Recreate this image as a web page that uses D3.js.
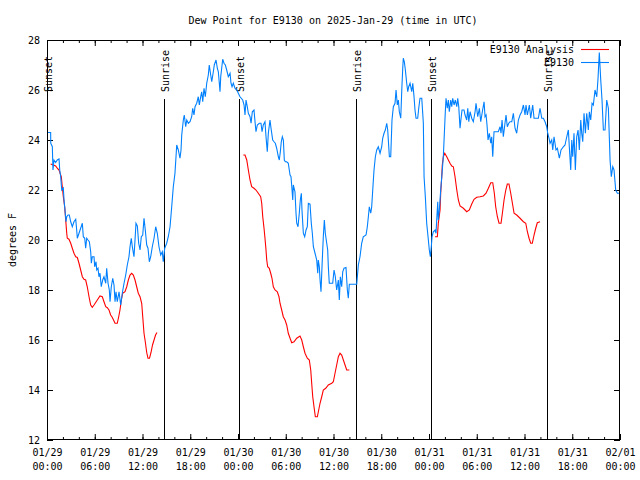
<!DOCTYPE html>
<html><head><meta charset="utf-8">
<script src="https://cdn.jsdelivr.net/npm/d3@7"></script>
<style>
body{margin:0;background:#fff;}
svg{display:block;font-family:"DejaVu Sans Mono","Liberation Mono",monospace;font-size:10px;}
</style></head><body>
<svg id="c" width="640" height="480"></svg>
<script>
// ---- data (hours after 2025-01-29 00:00 UTC, dew point °F) ----
const title = "Dew Point for E9130 on 2025-Jan-29 (time in UTC)";
const yLabel = "degrees F";
const seriesNames = ["E9130 Analysis", "E9130"];
const majorTickHours = [0,6,12,18,24,30,36,42,48,54,60,66,72];
const tickLabels = ["01/29 00:00","01/29 06:00","01/29 12:00","01/29 18:00","01/30 00:00","01/30 06:00","01/30 12:00","01/30 18:00","01/31 00:00","01/31 06:00","01/31 12:00","01/31 18:00","02/01 00:00"];
const minorTickHours = d3.range(0, 73, 2);
const yTicks = [12,14,16,18,20,22,24,26,28];
const sunTimes = [0.05, 14.75, 24.17, 38.79, 48.29, 62.87];
const sunLabels = ["Sunset","Sunrise","Sunset","Sunrise","Sunset","Sunrise"];

const obsHours = [0.13,0.46,0.47,0.67,0.75,0.88,1.09,1.29,1.51,1.60,1.72,1.85,2.05,2.14,2.26,2.39,2.48,2.64,2.80,2.98,3.18,3.39,3.61,3.73,3.81,4.02,4.23,4.44,4.56,4.74,4.86,4.99,5.15,5.32,5.49,5.57,5.69,5.91,5.99,6.16,6.25,6.41,6.53,6.66,6.82,7.00,7.16,7.38,7.50,7.67,7.83,7.92,8.08,8.26,8.42,8.55,8.67,8.83,9.05,9.26,9.46,9.68,9.89,10.09,10.30,10.43,10.59,10.72,10.93,11.06,11.18,11.35,11.52,11.69,11.85,12.03,12.19,12.35,12.53,12.69,12.86,13.03,13.23,13.45,13.66,13.86,14.07,14.29,14.49,14.61,14.79,15.04,15.24,15.46,15.67,15.87,16.08,16.21,16.30,16.50,16.71,16.84,16.93,17.13,17.25,17.43,17.56,17.76,17.97,18.18,18.31,18.47,18.60,18.81,19.01,19.14,19.31,19.44,19.57,19.73,19.89,20.07,20.27,20.39,20.57,20.70,20.90,21.02,21.24,21.40,21.53,21.74,21.83,21.95,22.08,22.24,22.41,22.58,22.78,23.00,23.12,23.25,23.41,23.62,23.84,24.04,24.25,24.59,24.76,24.88,25.01,25.17,25.30,25.51,25.64,25.80,26.01,26.14,26.26,26.43,26.68,26.89,27.02,27.18,27.39,27.52,27.68,27.81,28.02,28.15,28.36,28.53,28.69,28.86,29.07,29.19,29.32,29.44,29.57,29.70,29.82,29.95,30.12,30.32,30.54,30.66,30.79,30.88,30.95,31.16,31.29,31.38,31.54,31.70,31.83,31.96,32.04,32.21,32.38,32.55,32.71,32.84,33.05,33.21,33.34,33.47,33.68,33.89,34.02,34.09,34.22,34.31,34.43,34.59,34.72,34.85,34.97,35.15,35.27,35.35,35.47,35.69,35.90,36.07,36.23,36.40,36.61,36.73,36.86,37.03,37.16,37.32,37.57,37.74,37.86,37.99,38.29,38.70,38.92,39.12,39.33,39.54,39.74,40.09,40.25,40.38,40.50,40.68,40.80,40.93,41.09,41.26,41.43,41.63,41.85,42.06,42.18,42.35,42.51,42.69,42.81,43.02,43.19,43.35,43.52,43.73,43.86,44.02,44.15,44.27,44.45,44.58,44.70,44.77,44.90,45.03,45.20,45.33,45.45,45.62,45.83,45.96,46.12,46.24,46.37,46.58,46.71,46.87,47.09,47.29,47.38,47.54,47.71,47.88,48.04,48.17,48.29,48.38,48.54,48.76,48.88,48.97,49.10,49.17,49.30,49.47,49.64,49.80,49.93,50.05,50.14,50.30,50.43,50.55,50.73,50.86,50.98,51.15,51.31,51.49,51.61,51.74,51.90,52.03,52.15,52.40,52.53,52.74,52.87,53.00,53.16,53.37,53.57,53.79,53.91,54.12,54.33,54.50,54.70,54.92,55.04,55.17,55.29,55.42,55.58,55.76,55.88,56.01,56.17,56.34,56.71,56.93,57.05,57.18,57.34,57.52,57.68,57.84,58.02,58.18,58.40,58.60,58.81,59.02,59.23,59.44,59.65,59.86,60.07,60.19,60.36,60.61,60.78,61.03,61.20,61.54,61.74,61.95,62.17,62.37,62.58,62.79,62.92,63.08,63.21,63.42,63.55,63.71,63.96,64.13,64.38,64.59,64.88,65.09,65.31,65.51,65.63,65.81,65.94,66.06,66.22,66.39,66.56,66.73,66.89,67.07,67.19,67.32,67.48,67.65,67.82,68.02,68.15,68.32,68.49,68.65,68.86,69.08,69.24,69.40,69.58,69.74,69.91,70.12,70.33,70.54,70.75,70.91,71.09,71.25,71.46,71.67,71.92];
const obsValues = [24.3,24.3,23.87,23.73,22.8,23.2,23.1,23.2,23.24,22.8,22.53,22.0,22.08,21.6,21.2,20.73,20.93,21.0,21.0,20.73,20.53,20.73,20.83,20.4,20.07,20.27,20.47,20.67,20.13,20.07,19.67,20.07,20.0,19.93,19.53,19.07,19.33,19.33,18.93,19.13,18.8,18.87,18.53,18.67,18.13,18.4,18.53,18.27,18.87,18.27,18.0,17.53,18.13,18.47,18.2,17.53,17.93,17.53,17.93,17.4,17.87,18.27,18.6,19.0,19.33,19.73,20.07,19.73,19.33,20.0,20.67,20.56,19.87,19.6,20.13,20.2,20.87,20.4,19.8,19.67,19.13,19.33,19.73,20.07,20.53,20.27,19.73,19.4,19.53,19.13,19.67,19.87,20.13,20.53,21.33,22.13,22.67,23.33,23.8,23.6,23.27,23.6,24.2,24.8,25.0,24.53,24.8,24.67,24.73,24.93,25.27,25.0,25.33,25.47,25.73,25.4,25.73,25.93,25.53,26.07,25.73,26.27,26.6,27.0,26.6,26.33,26.73,27.0,27.2,26.87,26.73,25.93,26.53,26.87,27.23,27.07,27.0,26.8,26.53,26.67,26.27,26.13,26.27,26.07,26.0,25.87,25.73,25.6,25.4,25.0,25.6,25.33,25.07,24.93,24.67,25.13,25.2,24.73,24.33,24.6,24.67,24.67,24.33,24.6,24.73,24.13,23.53,24.27,24.8,24.47,24.0,23.93,23.87,23.67,23.33,23.2,23.53,23.93,24.13,24.0,23.2,23.13,23.13,23.07,22.6,22.53,22.0,21.6,22.2,21.93,21.07,20.67,20.53,21.07,21.6,21.87,21.2,20.27,20.13,20.4,20.53,21.47,21.44,20.67,20.27,19.73,19.47,19.2,18.67,19.2,18.93,18.4,17.93,19.2,20.13,20.8,20.27,19.87,19.6,18.93,18.27,18.27,18.27,18.8,18.53,18.0,18.4,17.6,18.53,18.13,18.73,18.87,18.9,18.0,17.67,18.23,18.23,18.23,18.23,19.0,19.33,19.87,20.13,20.2,20.53,20.93,21.33,21.07,21.33,22.0,22.8,23.33,23.6,23.73,23.47,23.73,24.07,24.27,24.4,24.67,24.4,23.33,23.33,24.8,25.33,25.47,26.0,25.4,25.6,25.13,24.87,26.0,26.87,27.27,27.13,26.8,26.27,25.93,26.13,26.27,25.93,26.27,25.73,25.2,24.87,24.87,25.27,25.67,25.67,24.67,22.53,21.73,20.67,20.13,19.6,19.33,19.73,20.13,20.33,20.4,20.27,20.8,21.53,20.8,21.2,22.0,22.67,23.33,24.27,25.13,25.67,25.27,25.6,25.13,25.6,25.33,25.67,25.4,25.6,25.33,25.67,25.33,24.47,24.87,25.2,25.2,25.0,24.8,25.27,24.73,25.13,24.87,24.73,25.13,25.47,24.93,25.27,24.73,25.13,25.53,24.93,25.0,24.6,24.0,24.27,23.87,24.13,23.33,24.33,24.33,24.33,24.53,24.27,24.8,24.13,24.6,25.0,24.53,24.67,24.73,24.73,25.07,24.47,24.27,24.8,25.0,25.13,25.4,25.0,25.4,25.0,25.4,24.87,25.4,24.87,24.87,24.87,25.27,24.87,24.87,24.73,24.53,24.27,24.07,23.87,24.0,23.6,24.13,23.6,23.67,23.27,23.6,23.73,23.8,24.13,24.4,23.73,22.8,24.0,23.33,24.27,22.8,24.13,24.4,23.6,24.8,24.27,23.93,25.07,24.27,25.07,24.4,25.13,24.8,25.47,25.4,26.0,25.73,26.47,27.5,26.4,25.6,24.4,24.4,25.6,25.27,23.2,22.53,22.93,22.8,22.0,21.87,21.87];

const anaHours = [
 [0.46,1.09,1.29,1.51,1.80,1.92,2.05,2.22,2.35,2.48,2.55,2.76,2.98,3.18,3.39,3.61,3.81,4.02,4.23,4.44,4.65,4.86,5.06,5.28,5.49,5.69,5.91,6.32,6.66,6.95,7.16,7.38,7.58,7.79,8.00,8.21,8.55,8.83,9.01,9.17,9.34,9.51,9.80,10.02,10.22,10.43,10.64,10.85,11.06,11.27,11.47,11.69,11.90,12.03,12.19,12.35,12.53,12.69,12.88,13.07,13.26,13.45,13.64,13.82],
 [24.67,24.88,25.10,25.30,25.51,25.72,26.01,26.26,26.55,26.85,26.98,27.11,27.27,27.39,27.52,27.61,27.73,27.93,28.11,28.27,28.44,28.65,28.94,29.15,29.28,29.49,29.69,29.91,30.12,30.32,30.54,30.75,31.04,31.38,31.79,32.01,32.21,32.42,32.71,32.96,33.14,33.26,33.39,33.55,33.72,33.97,34.14,34.31,34.52,34.72,35.02,35.35,35.78,35.98,36.19,36.40,36.61,36.82,37.03,37.24,37.45,37.66,37.99],
 [48.76,49.05,49.17,49.39,49.47,49.60,49.67,49.80,49.98,50.23,50.43,50.64,50.86,51.06,51.27,51.49,51.69,51.90,52.32,52.74,53.07,53.37,53.66,54.00,54.41,54.83,55.17,55.46,55.76,56.01,56.21,56.38,56.59,56.80,57.05,57.22,57.43,57.65,57.84,58.05,58.27,58.48,58.69,59.02,59.44,59.86,60.16,60.36,60.57,60.78,60.98,61.20,61.41,61.61,61.95]
];
const anaValues = [
 [23.04,22.96,22.87,22.8,22.53,22.13,21.73,21.33,20.8,20.27,20.07,20.03,19.87,19.67,19.47,19.33,19.3,19.07,18.8,18.53,18.43,18.4,18.13,17.73,17.4,17.31,17.4,17.6,17.76,17.73,17.53,17.33,17.29,17.2,17.0,16.9,16.67,16.67,16.93,17.2,17.6,17.87,17.93,18.13,18.4,18.6,18.67,18.6,18.4,18.13,17.87,17.73,17.47,16.93,16.27,15.93,15.5,15.27,15.27,15.5,15.8,16.0,16.2,16.3],
 [23.4,23.4,23.2,22.8,22.4,22.13,22.07,22.0,21.87,21.73,21.47,20.93,20.47,20.07,19.6,19.2,18.93,18.87,18.67,18.47,18.13,18.0,17.93,17.73,17.47,17.2,16.93,16.8,16.6,16.27,16.07,15.89,15.93,16.07,16.16,16.0,15.73,15.47,15.27,15.2,14.8,14.27,13.73,13.33,12.93,12.93,13.2,13.47,13.73,14.0,14.07,14.2,14.27,14.33,14.67,15.0,15.33,15.47,15.4,15.2,15.0,14.8,14.8],
 [20.13,20.13,20.67,21.2,21.87,22.53,23.0,23.33,23.47,23.33,23.2,23.07,22.96,22.93,22.53,22.0,21.6,21.36,21.27,21.13,21.2,21.44,21.63,21.71,21.73,21.76,21.87,22.07,22.29,22.29,21.87,21.33,20.93,20.67,20.67,21.07,21.6,22.0,22.24,22.24,21.87,21.47,21.07,21.0,20.87,20.73,20.67,20.33,20.07,19.87,19.87,20.2,20.47,20.69,20.73]
];

// ---- drawing ----
const svg = d3.select("#c");
const L = 47, R = 620, T = 40, B = 440;
const x = d3.scaleLinear().domain([0, 72]).range([L, R]);
const y = d3.scaleLinear().domain([12, 28]).range([B, T]);

svg.append("defs").append("clipPath").attr("id","clip")
  .append("rect").attr("x",L).attr("y",T).attr("width",R-L).attr("height",B-T);

// minor ticks (bottom & top)
svg.append("g").attr("transform",`translate(0,${B})`)
  .call(d3.axisBottom(x).tickValues(minorTickHours).tickFormat("").tickSizeInner(-3).tickSizeOuter(0));
svg.append("g").attr("transform",`translate(0,${T})`)
  .call(d3.axisTop(x).tickValues(minorTickHours).tickFormat("").tickSizeInner(-3).tickSizeOuter(0));
// major x ticks
const xa = svg.append("g").attr("transform",`translate(0,${B})`)
  .call(d3.axisBottom(x).tickValues(majorTickHours).tickFormat((d,i)=>tickLabels[i]).tickSizeInner(-6).tickSizeOuter(0).tickPadding(9));
xa.selectAll(".tick text").each(function(){
  const t = d3.select(this); const parts = t.text().split(" ");
  t.text(null);
  parts.forEach((p,i)=>t.append("tspan").attr("x",0).attr("dy", i===0 ? "0.71em" : "1.35em").text(p));
});
svg.append("g").attr("transform",`translate(0,${T})`)
  .call(d3.axisTop(x).tickValues(majorTickHours).tickFormat("").tickSizeInner(-6).tickSizeOuter(0));
// y ticks
svg.append("g").attr("transform",`translate(${L},0)`)
  .call(d3.axisLeft(y).tickValues(yTicks).tickFormat(d3.format("d")).tickSizeInner(-6).tickSizeOuter(0).tickPadding(7));
svg.append("g").attr("transform",`translate(${R},0)`)
  .call(d3.axisRight(y).tickValues(yTicks).tickFormat("").tickSizeInner(-6).tickSizeOuter(0));

svg.selectAll(".domain").remove();
svg.selectAll(".tick line").attr("stroke","#000");
svg.selectAll(".tick text").attr("fill","#000").style("font-family","DejaVu Sans Mono, monospace").style("font-size","10px");

// sunrise/sunset lines
const sun = svg.append("g");
sun.selectAll("line").data(sunTimes).join("line")
  .attr("x1",d=>Math.round(x(d))+0.5).attr("x2",d=>Math.round(x(d))+0.5)
  .attr("y1",y(12)).attr("y2",99).attr("stroke","#000").attr("stroke-width",1);
sun.selectAll("text").data(sunTimes).join("text")
  .attr("transform",d=>`translate(${Math.round(x(d))+5},92) rotate(-90)`)
  .attr("text-anchor","start").attr("fill","#000").text((d,i)=>sunLabels[i]);

// series
const plot = svg.append("g").attr("clip-path","url(#clip)");
const line = d3.line().x(d=>x(d[0])).y(d=>y(d[1]));
anaHours.forEach((hs,k)=>{
  plot.append("path").datum(hs.map((h,i)=>[h, anaValues[k][i]]))
    .attr("d",line).attr("fill","none").attr("stroke","#ff0000").attr("stroke-width",1.1);
});
plot.append("path").datum(obsHours.map((h,i)=>[h, obsValues[i]]))
  .attr("d",line).attr("fill","none").attr("stroke","#0080ff").attr("stroke-width",1.1);

// border
svg.append("rect").attr("x",L+0.5).attr("y",T+0.5).attr("width",R-L-1).attr("height",B-T-1)
  .attr("fill","none").attr("stroke","#000");

// legend
const leg = svg.append("g");
const legColors = ["#ff0000","#0080ff"];
seriesNames.forEach((n,i)=>{
  const yy = 49 + i*13;
  leg.append("text").attr("x",574).attr("y",yy).attr("dy","0.35em").attr("text-anchor","end").attr("fill","#000").text(n);
  leg.append("line").attr("x1",581).attr("x2",609).attr("y1",yy+0.5).attr("y2",yy+0.5).attr("stroke",legColors[i]).attr("stroke-width",1.1);
});

// title & y label
svg.append("text").attr("x",333).attr("y",20).attr("dy","0.35em").attr("text-anchor","middle").attr("fill","#000").text(title);
svg.append("text").attr("transform","translate(12,240) rotate(-90)").attr("text-anchor","middle").attr("dy","0.35em").attr("fill","#000").text(yLabel);
</script>
</body></html>
